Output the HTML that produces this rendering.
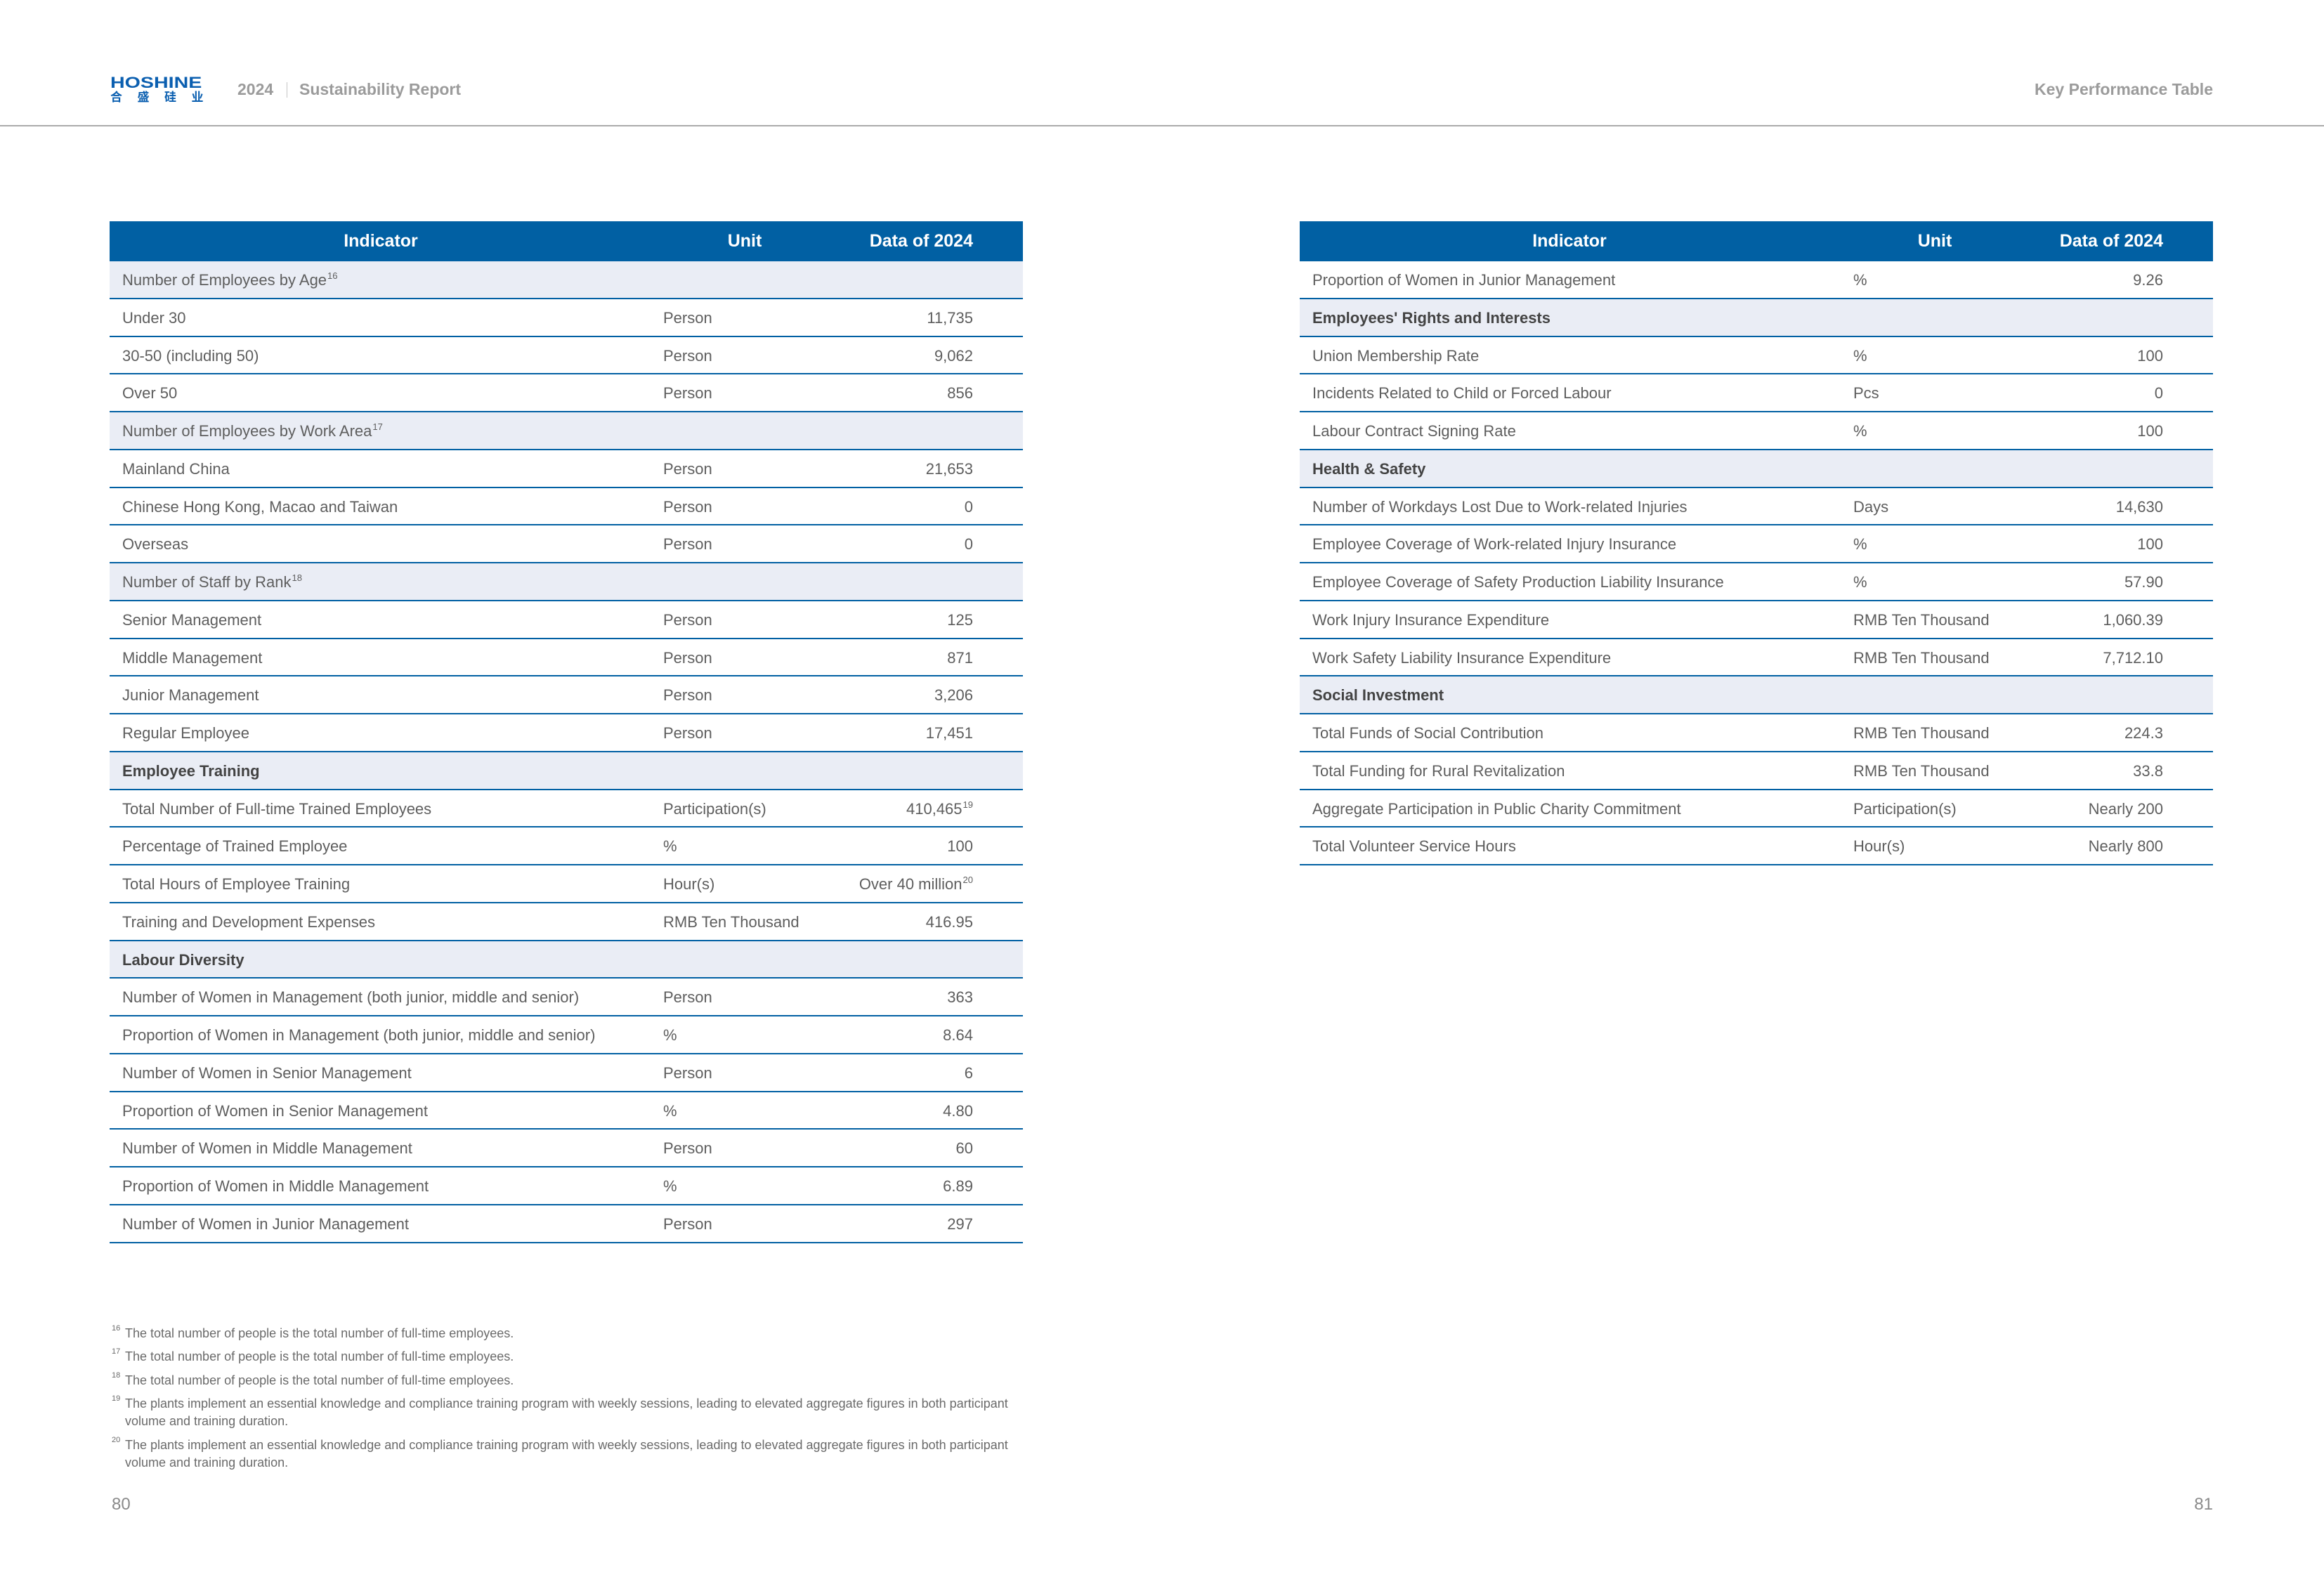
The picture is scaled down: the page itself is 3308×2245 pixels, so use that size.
<!DOCTYPE html>
<html>
<head>
<meta charset="utf-8">
<style>
  html, body { margin:0; padding:0; }
  body { width:3308px; height:2245px; position:relative; background:#fff; overflow:hidden;
         font-family:"Liberation Sans","Noto Sans CJK SC",sans-serif; }
  .abs { position:absolute; white-space:nowrap; }
  .hline { position:absolute; left:0; top:178px; width:3308px; height:2px; background:#ababab; }
  .hdtxt { font-size:23px; font-weight:bold; color:#9b9b9b; line-height:23px; }
  .logo1 { position:absolute; left:157px; top:107px; font-size:22px; line-height:22px; font-weight:bold;
           color:#0b5fb0; transform:scaleX(1.3); transform-origin:0 0; letter-spacing:0; }
  .logo2 { position:absolute; left:157px; top:128px; font-family:"Noto Sans CJK SC",sans-serif; font-size:17px;
           line-height:18px; font-weight:bold; color:#0b5fb0; letter-spacing:21.5px; white-space:nowrap; }
  .tbl { position:absolute; top:315px; width:1300px; }
  .hd { position:relative; height:57px; background:#0160a3; color:#fff; font-weight:bold; font-size:25px; }
  .hd span { position:absolute; top:0; line-height:57px; white-space:nowrap; }
  .row { position:relative; height:53.75px; box-sizing:border-box; border-bottom:2px solid #0160a3;
         font-size:22px; color:#5e5e5e; }
  .row span { position:absolute; top:0; line-height:53.75px; white-space:nowrap; }
  .c1 { left:18px; }
  .c2 { left:788px; }
  .c3 { right:71px; text-align:right; }
  .sub { background:#eaedf5; }
  .sec { background:#eaedf5; font-weight:bold; color:#434343; }
  sup.s { font-size:13px; vertical-align:baseline; position:relative; top:-9px; margin-left:1px; }
  .fn { position:absolute; left:159px; top:1886px; width:1300px; font-size:18px; line-height:25px; color:#6a6a6a; }
  .fn p { margin:0 0 8.4px 0; position:relative; padding-left:19px; white-space:nowrap; }
  .fn p b { position:absolute; left:0; top:-5px; font-size:11px; font-weight:normal; line-height:20px; }
  .pg { font-size:24px; line-height:24px; color:#8a8a8a; }
</style>
</head>
<body>

<!-- Header -->
<div class="logo1">HOSHINE</div>
<div class="logo2">合盛硅业</div>
<div class="abs hdtxt" style="left:338px; top:116px;">2024</div>
<div class="abs" style="left:408px; top:117px; width:1px; height:22px; background:#c4c4c4;"></div>
<div class="abs hdtxt" style="left:426px; top:116px;">Sustainability Report</div>
<div class="abs hdtxt" style="right:158px; top:116px; text-align:right;">Key Performance Table</div>
<div class="hline"></div>

<!-- Left table -->
<div class="tbl" style="left:156px;">
  <div class="hd">
    <span style="left:0; width:772px; text-align:center;">Indicator</span>
    <span style="left:772px; width:264px; text-align:center;">Unit</span>
    <span style="right:71px;">Data of 2024</span>
  </div>
  <div class="row sub"><span class="c1">Number of Employees by Age<sup class="s">16</sup></span></div>
  <div class="row"><span class="c1">Under 30</span><span class="c2">Person</span><span class="c3">11,735</span></div>
  <div class="row"><span class="c1">30-50 (including 50)</span><span class="c2">Person</span><span class="c3">9,062</span></div>
  <div class="row"><span class="c1">Over 50</span><span class="c2">Person</span><span class="c3">856</span></div>
  <div class="row sub"><span class="c1">Number of Employees by Work Area<sup class="s">17</sup></span></div>
  <div class="row"><span class="c1">Mainland China</span><span class="c2">Person</span><span class="c3">21,653</span></div>
  <div class="row"><span class="c1">Chinese Hong Kong, Macao and Taiwan</span><span class="c2">Person</span><span class="c3">0</span></div>
  <div class="row"><span class="c1">Overseas</span><span class="c2">Person</span><span class="c3">0</span></div>
  <div class="row sub"><span class="c1">Number of Staff by Rank<sup class="s">18</sup></span></div>
  <div class="row"><span class="c1">Senior Management</span><span class="c2">Person</span><span class="c3">125</span></div>
  <div class="row"><span class="c1">Middle Management</span><span class="c2">Person</span><span class="c3">871</span></div>
  <div class="row"><span class="c1">Junior Management</span><span class="c2">Person</span><span class="c3">3,206</span></div>
  <div class="row"><span class="c1">Regular Employee</span><span class="c2">Person</span><span class="c3">17,451</span></div>
  <div class="row sec"><span class="c1">Employee Training</span></div>
  <div class="row"><span class="c1">Total Number of Full-time Trained Employees</span><span class="c2">Participation(s)</span><span class="c3">410,465<sup class="s">19</sup></span></div>
  <div class="row"><span class="c1">Percentage of Trained Employee</span><span class="c2">%</span><span class="c3">100</span></div>
  <div class="row"><span class="c1">Total Hours of Employee Training</span><span class="c2">Hour(s)</span><span class="c3">Over 40 million<sup class="s">20</sup></span></div>
  <div class="row"><span class="c1">Training and Development Expenses</span><span class="c2">RMB Ten Thousand</span><span class="c3">416.95</span></div>
  <div class="row sec"><span class="c1">Labour Diversity</span></div>
  <div class="row"><span class="c1">Number of Women in Management (both junior, middle and senior)</span><span class="c2">Person</span><span class="c3">363</span></div>
  <div class="row"><span class="c1">Proportion of Women in Management (both junior, middle and senior)</span><span class="c2">%</span><span class="c3">8.64</span></div>
  <div class="row"><span class="c1">Number of Women in Senior Management</span><span class="c2">Person</span><span class="c3">6</span></div>
  <div class="row"><span class="c1">Proportion of Women in Senior Management</span><span class="c2">%</span><span class="c3">4.80</span></div>
  <div class="row"><span class="c1">Number of Women in Middle Management</span><span class="c2">Person</span><span class="c3">60</span></div>
  <div class="row"><span class="c1">Proportion of Women in Middle Management</span><span class="c2">%</span><span class="c3">6.89</span></div>
  <div class="row"><span class="c1">Number of Women in Junior Management</span><span class="c2">Person</span><span class="c3">297</span></div>
</div>

<!-- Right table -->
<div class="tbl" style="left:1850px;">
  <div class="hd">
    <span style="left:0; width:768px; text-align:center;">Indicator</span>
    <span style="left:772px; width:264px; text-align:center;">Unit</span>
    <span style="right:71px;">Data of 2024</span>
  </div>
  <div class="row"><span class="c1">Proportion of Women in Junior Management</span><span class="c2">%</span><span class="c3">9.26</span></div>
  <div class="row sec"><span class="c1">Employees' Rights and Interests</span></div>
  <div class="row"><span class="c1">Union Membership Rate</span><span class="c2">%</span><span class="c3">100</span></div>
  <div class="row"><span class="c1">Incidents Related to Child or Forced Labour</span><span class="c2">Pcs</span><span class="c3">0</span></div>
  <div class="row"><span class="c1">Labour Contract Signing Rate</span><span class="c2">%</span><span class="c3">100</span></div>
  <div class="row sec"><span class="c1">Health &amp; Safety</span></div>
  <div class="row"><span class="c1">Number of Workdays Lost Due to Work-related Injuries</span><span class="c2">Days</span><span class="c3">14,630</span></div>
  <div class="row"><span class="c1">Employee Coverage of Work-related Injury Insurance</span><span class="c2">%</span><span class="c3">100</span></div>
  <div class="row"><span class="c1">Employee Coverage of Safety Production Liability Insurance</span><span class="c2">%</span><span class="c3">57.90</span></div>
  <div class="row"><span class="c1">Work Injury Insurance Expenditure</span><span class="c2">RMB Ten Thousand</span><span class="c3">1,060.39</span></div>
  <div class="row"><span class="c1">Work Safety Liability Insurance Expenditure</span><span class="c2">RMB Ten Thousand</span><span class="c3">7,712.10</span></div>
  <div class="row sec"><span class="c1">Social Investment</span></div>
  <div class="row"><span class="c1">Total Funds of Social Contribution</span><span class="c2">RMB Ten Thousand</span><span class="c3">224.3</span></div>
  <div class="row"><span class="c1">Total Funding for Rural Revitalization</span><span class="c2">RMB Ten Thousand</span><span class="c3">33.8</span></div>
  <div class="row"><span class="c1">Aggregate Participation in Public Charity Commitment</span><span class="c2">Participation(s)</span><span class="c3">Nearly 200</span></div>
  <div class="row"><span class="c1">Total Volunteer Service Hours</span><span class="c2">Hour(s)</span><span class="c3">Nearly 800</span></div>
</div>

<!-- Footnotes -->
<div class="fn">
  <p><b>16</b>The total number of people is the total number of full-time employees.</p>
  <p><b>17</b>The total number of people is the total number of full-time employees.</p>
  <p><b>18</b>The total number of people is the total number of full-time employees.</p>
  <p><b>19</b>The plants implement an essential knowledge and compliance training program with weekly sessions, leading to elevated aggregate figures in both participant<br>volume and training duration.</p>
  <p><b>20</b>The plants implement an essential knowledge and compliance training program with weekly sessions, leading to elevated aggregate figures in both participant<br>volume and training duration.</p>
</div>

<!-- Page numbers -->
<div class="abs pg" style="left:159px; top:2130px;">80</div>
<div class="abs pg" style="right:158px; top:2130px; text-align:right;">81</div>

</body>
</html>
